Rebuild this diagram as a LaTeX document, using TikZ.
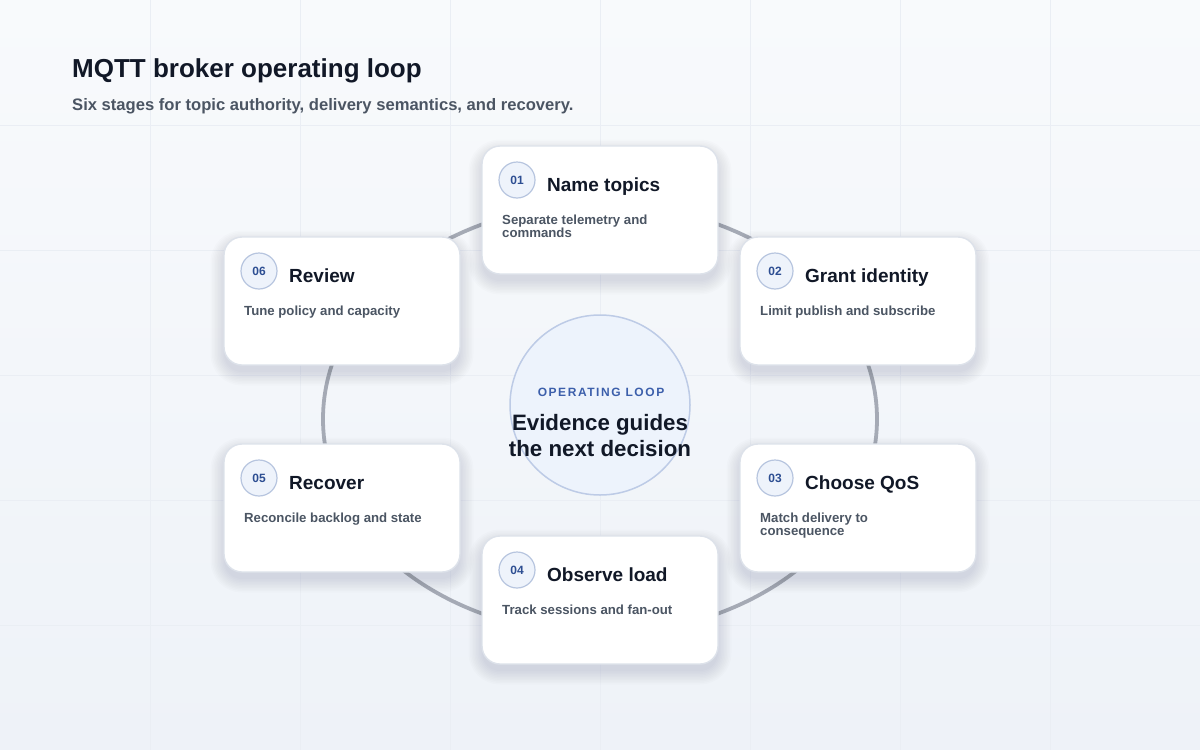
\documentclass[tikz,border=0pt]{standalone}
\usepackage{fontspec}
\setmainfont{Liberation Sans}
\newfontfamily\spacedfont[LetterSpace=13]{Liberation Sans}
\definecolor{ink}{HTML}{111827}
\definecolor{muted}{HTML}{4B5563}
\definecolor{accent}{HTML}{2D4E92}
\definecolor{accentlight}{HTML}{3C5FAB}
\definecolor{bgtop}{HTML}{F8FAFC}
\definecolor{bgbottom}{HTML}{EEF2F8}
\definecolor{gridc}{HTML}{EAEEF4}
\definecolor{ringc}{HTML}{A5AAB5}
\definecolor{cardline}{HTML}{DDE2EA}
\definecolor{badgefill}{HTML}{EEF3FB}
\definecolor{badgeline}{HTML}{B7C5DF}
\definecolor{hubfill}{HTML}{EDF3FC}
\definecolor{hubline}{HTML}{BDCBE6}
\definecolor{shadowc}{HTML}{1E2A44}
\tikzset{
  gridline/.style={draw=gridc, line width=0.7pt},
  ring/.style={draw=ringc, line width=3.8pt},
  cardshadow/.style={fill=shadowc, fill opacity=0.011},
  card/.style={rectangle, rounded corners=18pt, draw=cardline, line width=1.4pt,
    fill=white, minimum width=236pt, minimum height=128pt, inner sep=0pt},
  badge/.style={circle, minimum size=36pt, inner sep=0pt, fill=badgefill,
    draw=badgeline, line width=1.2pt, text=accent,
    font=\bfseries\fontsize{12}{12}\selectfont},
  ctitle/.style={anchor=base west, inner sep=0pt, text=ink,
    font=\bfseries\fontsize{19}{22}\selectfont},
  cdesc/.style={anchor=base west, inner sep=0pt, text=muted, align=left,
    font=\bfseries\fontsize{13.2}{13}\selectfont},
  hub/.style={circle, minimum size=180pt, inner sep=0pt, fill=hubfill,
    draw=hubline, line width=1.5pt},
}
\begin{document}
\begin{tikzpicture}[x=1pt,y=-1pt]
\useasboundingbox (0,0) rectangle (1200,750);
\shade[top color=bgtop, bottom color=bgbottom] (0,0) rectangle (1200,750);
\foreach \gx in {150,300,450,600,750,900,1050} \draw[gridline] (\gx,0) -- (\gx,750);
\foreach \gy in {125,250,375,500,625} \draw[gridline] (0,\gy) -- (1200,\gy);

% titles
\node[anchor=base west, inner sep=0pt, text=ink, font=\bfseries\fontsize{26}{30}\selectfont]
  (title) at (72,77) {MQTT broker operating loop};
\node[anchor=base west, inner sep=0pt, text=muted, font=\bfseries\fontsize{16.6}{20}\selectfont]
  (subtitle) at (72,110) {Six stages for topic authority, delivery semantics, and recovery.};

% loop ring
\draw[ring] (600,419) ellipse [x radius=277pt, y radius=215pt];

% hub
\node[hub] (hub) at (600,405) {};
\node[inner sep=0pt, anchor=base, text=accentlight, font=\spacedfont\bfseries\fontsize{12}{12}\selectfont]
  (hubk) at (601,396.5) {OPERATING LOOP};
\node[inner sep=0pt, anchor=base, text=ink, font=\bfseries\fontsize{22.3}{26}\selectfont]
  (hub1) at (600,430) {Evidence guides};
\node[inner sep=0pt, anchor=base, text=ink, font=\bfseries\fontsize{22.3}{26}\selectfont]
  (hub2) at (600,456) {the next decision};

% card shadows
\foreach \cx/\ty in {600/146, 858/237, 858/444, 600/536, 342/444, 342/237}{
  \foreach \s in {0,1.5,...,13.5}{
    \fill[cardshadow, rounded corners={18pt+\s pt}]
      (\cx-118-\s,\ty+7-\s) rectangle (\cx+118+\s,\ty+135+\s);
  }
}

% cards: name, centre x, top y, badge x, number, title, description, description baseline
\foreach \n/\cx/\ty/\bx/\num/\ttl/\dsc/\dy in {
  1/600/146/517/01/Name topics/{Separate telemetry and\\commands}/91,
  2/858/237/775/02/Grant identity/{Limit publish and subscribe}/78,
  3/858/444/775/03/Choose QoS/{Match delivery to\\consequence}/91,
  4/600/536/517/04/Observe load/{Track sessions and fan-out}/78,
  5/342/444/259/05/Recover/{Reconcile backlog and state}/78,
  6/342/237/259/06/Review/{Tune policy and capacity}/78}{
  \node[card] (card\n) at (\cx,\ty+64) {};
  \node[badge] (badge\n) at (\bx,\ty+34) {\num};
  \node[ctitle] (title\n) at (\bx+30,\ty+45) {\ttl};
  \node[cdesc] (desc\n) at (\bx-15,\ty+\dy) {\dsc};
}
\end{tikzpicture}
\end{document}
